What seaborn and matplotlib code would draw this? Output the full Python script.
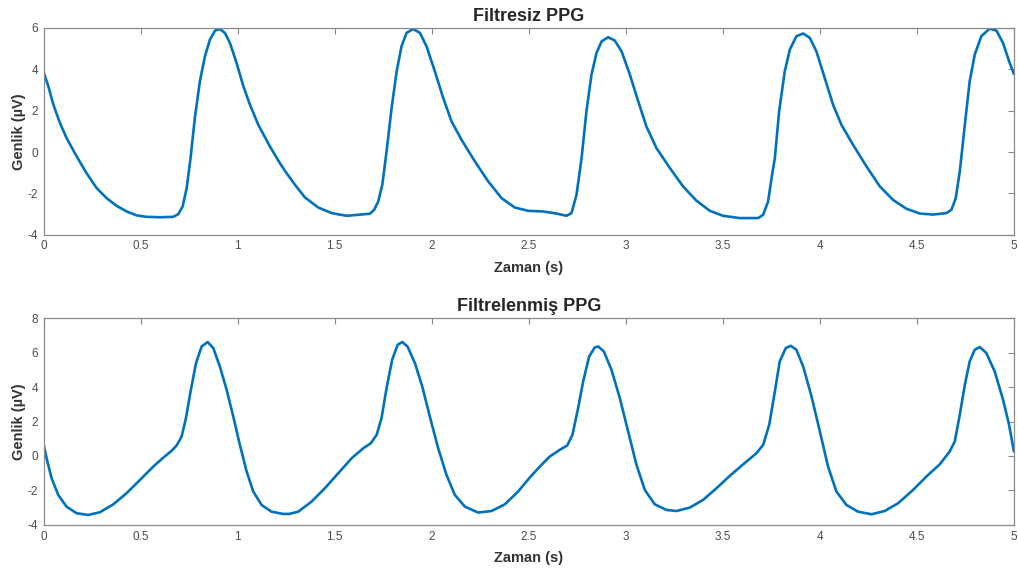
import numpy as np
import pandas as pd
import matplotlib
matplotlib.use("Agg")
import matplotlib.pyplot as plt
import seaborn as sns

# --- raw PPG ---
t_raw = [0.0, 0.024, 0.05, 0.084, 0.118, 0.17, 0.221, 0.273, 0.325, 0.376,
         0.428, 0.479, 0.53, 0.599, 0.668, 0.694, 0.716, 0.737, 0.757, 0.779,
         0.805, 0.831, 0.857, 0.883, 0.908, 0.934, 0.96, 0.994, 1.029, 1.063,
         1.106, 1.166, 1.217, 1.243, 1.295, 1.346, 1.415, 1.484, 1.561, 1.621,
         1.681, 1.703, 1.724, 1.745, 1.767, 1.793, 1.819, 1.844, 1.87, 1.904,
         1.939, 1.973, 2.016, 2.059, 2.102, 2.153, 2.222, 2.291, 2.36, 2.428,
         2.497, 2.574, 2.643, 2.694, 2.72, 2.746, 2.772, 2.797, 2.823, 2.849,
         2.875, 2.909, 2.943, 2.978, 3.021, 3.064, 3.106, 3.158, 3.227, 3.295,
         3.364, 3.433, 3.501, 3.587, 3.682, 3.708, 3.733, 3.752, 3.768, 3.79,
         3.819, 3.845, 3.879, 3.914, 3.948, 3.982, 4.025, 4.068, 4.111, 4.171,
         4.24, 4.309, 4.377, 4.446, 4.515, 4.583, 4.652, 4.678, 4.7, 4.721,
         4.747, 4.772, 4.798, 4.832, 4.875, 4.91, 4.944, 4.975, 5.0]
v_raw = [3.86, 3.18, 2.29, 1.4, 0.68, -0.21, -1.02, -1.74, -2.23, -2.6,
         -2.87, -3.06, -3.13, -3.15, -3.13, -3.0, -2.63, -1.74, -0.29, 1.65,
         3.42, 4.63, 5.44, 5.87, 5.95, 5.76, 5.27, 4.31, 3.18, 2.29,
         1.32, 0.27, -0.53, -0.9, -1.58, -2.19, -2.68, -2.95, -3.08, -3.03,
         -2.98, -2.79, -2.39, -1.58, 0.03, 2.13, 3.9, 5.11, 5.76, 5.95,
         5.76, 5.11, 3.9, 2.61, 1.48, 0.6, -0.45, -1.42, -2.23, -2.68,
         -2.84, -2.87, -2.97, -3.08, -2.95, -2.06, -0.29, 1.97, 3.74, 4.79,
         5.35, 5.55, 5.39, 4.87, 3.74, 2.45, 1.24, 0.19, -0.77, -1.66,
         -2.35, -2.84, -3.08, -3.19, -3.19, -3.03, -2.39, -1.2, -0.29, 1.97,
         3.9, 4.95, 5.6, 5.73, 5.52, 4.87, 3.58, 2.29, 1.32, 0.35,
         -0.69, -1.66, -2.31, -2.74, -2.97, -3.02, -2.95, -2.79, -2.23, -0.94,
         1.32, 3.42, 4.71, 5.6, 5.97, 5.87, 5.27, 4.39, 3.77]

# --- filtered PPG ---
t_filt = [0.0, 0.019, 0.041, 0.075, 0.118, 0.17, 0.23, 0.29, 0.359, 0.427,
          0.496, 0.565, 0.617, 0.659, 0.685, 0.711, 0.733, 0.757, 0.785, 0.814,
          0.845, 0.874, 0.908, 0.943, 0.977, 1.011, 1.046, 1.08, 1.123, 1.174,
          1.235, 1.265, 1.312, 1.381, 1.449, 1.518, 1.587, 1.647, 1.686, 1.716,
          1.741, 1.767, 1.796, 1.824, 1.848, 1.875, 1.913, 1.951, 1.99, 2.033,
          2.076, 2.119, 2.171, 2.239, 2.308, 2.377, 2.445, 2.505, 2.557, 2.608,
          2.66, 2.698, 2.725, 2.754, 2.78, 2.811, 2.84, 2.858, 2.887, 2.926,
          2.969, 3.012, 3.055, 3.098, 3.149, 3.21, 3.261, 3.33, 3.398, 3.467,
          3.536, 3.605, 3.673, 3.708, 3.739, 3.768, 3.793, 3.824, 3.85, 3.879,
          3.914, 3.957, 4.0, 4.042, 4.085, 4.137, 4.197, 4.266, 4.334, 4.403,
          4.48, 4.549, 4.618, 4.669, 4.695, 4.721, 4.747, 4.772, 4.798, 4.824,
          4.858, 4.901, 4.944, 4.975, 5.0]
v_filt = [0.65, -0.32, -1.29, -2.26, -2.94, -3.32, -3.42, -3.26, -2.8, -2.16,
          -1.39, -0.61, -0.09, 0.3, 0.61, 1.13, 2.19, 3.74, 5.39, 6.35,
          6.61, 6.26, 5.19, 3.84, 2.29, 0.65, -0.9, -2.06, -2.84, -3.23,
          -3.36, -3.36, -3.23, -2.64, -1.87, -1.0, -0.13, 0.45, 0.74, 1.23,
          2.19, 3.94, 5.58, 6.45, 6.61, 6.35, 5.39, 4.03, 2.29, 0.45,
          -1.1, -2.26, -2.94, -3.28, -3.19, -2.8, -2.06, -1.25, -0.61, -0.03,
          0.36, 0.61, 1.23, 2.77, 4.32, 5.77, 6.3, 6.35, 6.06, 5.0,
          3.36, 1.42, -0.52, -1.97, -2.8, -3.13, -3.19, -2.99, -2.55, -1.87,
          -1.15, -0.48, 0.16, 0.65, 1.81, 3.74, 5.48, 6.26, 6.39, 6.16,
          5.19, 3.45, 1.42, -0.61, -2.06, -2.84, -3.23, -3.38, -3.19, -2.74,
          -1.97, -1.19, -0.48, 0.26, 0.84, 2.39, 4.13, 5.48, 6.16, 6.32,
          5.97, 4.9, 3.26, 1.81, 0.26]

x_ticks = [0, 0.5, 1, 1.5, 2, 2.5, 3, 3.5, 4, 4.5, 5]
x_ticklabels = ["0", "0.5", "1", "1.5", "2", "2.5", "3", "3.5", "4", "4.5", "5"]

sns.set_style("white")
plt.rcParams['font.family'] = ['Liberation Sans', 'DejaVu Sans']
plt.rcParams['axes.unicode_minus'] = False

line_color = "#0072BD"
tick_gray = "#4d4d4d"

fig = plt.figure(figsize=(10.18, 5.70), dpi=100)
ax1 = fig.add_axes([0.0429, 0.588, 0.9531, 0.363])
ax2 = fig.add_axes([0.0429, 0.079, 0.9531, 0.363])

panels = [
    (ax1, t_raw, v_raw, "Filtresiz PPG", (-4, 6), [-4, -2, 0, 2, 4, 6]),
    (ax2, t_filt, v_filt, "Filtrelenmiş PPG", (-4, 8), [-4, -2, 0, 2, 4, 6, 8]),
]

for ax, t, v, title, ylim, yticks in panels:
    df = pd.DataFrame({"t": t, "v": v})
    sns.lineplot(data=df, x="t", y="v", ax=ax, color=line_color,
                 linewidth=1.9, estimator=None, sort=False)
    ax.set_xlim(0, 5)
    ax.set_ylim(*ylim)
    ax.set_xticks(x_ticks)
    ax.set_xticklabels(x_ticklabels)
    ax.set_yticks(yticks)
    ax.tick_params(direction="in", length=4, width=0.8, colors="#8a8a8a",
                   labelcolor=tick_gray, labelsize=8.5, top=True, right=True,
                   labeltop=False, labelright=False, pad=4)
    for s in ax.spines.values():
        s.set_color("#8a8a8a")
        s.set_linewidth(0.9)
    ax.set_title(title, fontsize=13, fontweight="bold", pad=5)
    ax.set_xlabel("Zaman (s)", fontsize=10.5, fontweight="bold", color="#333333", labelpad=6)
    ax.set_ylabel("Genlik (µV)", fontsize=10.5, fontweight="bold", color="#333333", labelpad=1)

fig.savefig("out.png", dpi=100)
